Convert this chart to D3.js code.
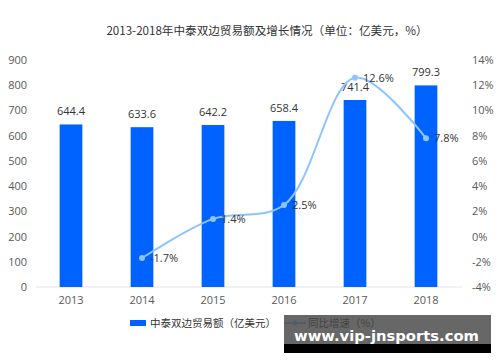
<!DOCTYPE html>
<html>
<head>
<meta charset="utf-8">
<script src="https://cdn.jsdelivr.net/npm/d3@7"></script>
<style>
  body { margin: 0; background: #fff; }
  text { font-family: "Noto Sans CJK SC", "Noto Sans", sans-serif; }
</style>
</head>
<body>
<div id="chart"></div>
<script>
// data
const years = ['2013', '2014', '2015', '2016', '2017', '2018']
const tradeValues = [644.4, 633.6, 642.2, 658.4, 741.4, 799.3]
const growthYears = ['2014', '2015', '2016', '2017', '2018']
const growthRates = [-1.7, 1.4, 2.5, 12.6, 7.8]
const leftTicks = [0, 100, 200, 300, 400, 500, 600, 700, 800, 900]
const rightTicks = [-4, -2, 0, 2, 4, 6, 8, 10, 12, 14]

const width = 500
const height = 362
const margin = { top: 60, right: 38, bottom: 75, left: 36 }

const svg = d3.select('#chart')
  .append('svg')
  .attr('width', width)
  .attr('height', height)

const x = d3.scaleBand()
  .domain(years)
  .range([margin.left - 0.5, width - margin.right - 0.5])
  .paddingInner(0.68)
  .paddingOuter(0.34)

const yLeft = d3.scaleLinear()
  .domain([0, 900])
  .range([height - margin.bottom, margin.top])

const yRight = d3.scaleLinear()
  .domain([-4, 14])
  .range([height - margin.bottom, margin.top])

const cx = (d) => x(d) + x.bandwidth() / 2

// title
svg.append('text')
  .attr('x', 267)
  .attr('y', 35)
  .attr('text-anchor', 'middle')
  .style('font-size', '11.6px')
  .style('fill', '#333')
  .text('2013-2018年中泰双边贸易额及增长情况（单位：亿美元，%）')

// baseline
svg.append('line')
  .attr('x1', margin.left)
  .attr('x2', width - margin.right)
  .attr('y1', yLeft(0))
  .attr('y2', yLeft(0))
  .attr('stroke', '#e3e3e3')
  .attr('stroke-width', 1)

// left axis
const leftAxis = svg.append('g')
  .attr('transform', `translate(${margin.left - 9},0)`)
  .call(d3.axisLeft(yLeft).tickValues(leftTicks).tickSize(0).tickPadding(0))
leftAxis.select('.domain').remove()
leftAxis.selectAll('text')
  .style('font-size', '11px')
  .style('fill', '#595959')
  .style('font-family', '"Open Sans", "Noto Sans", sans-serif')

// right axis
const rightAxis = svg.append('g')
  .attr('transform', `translate(${width - margin.right + 10},0)`)
  .call(d3.axisRight(yRight).tickValues(rightTicks).tickSize(0).tickPadding(0)
    .tickFormat((d) => d + '%'))
rightAxis.select('.domain').remove()
rightAxis.selectAll('text')
  .style('font-size', '11px')
  .style('fill', '#595959')
  .style('font-family', '"Open Sans", "Noto Sans", sans-serif')

// bottom axis
const bottomAxis = svg.append('g')
  .attr('transform', `translate(0,${yLeft(0) + 9})`)
  .call(d3.axisBottom(x).tickSize(0).tickPadding(0))
bottomAxis.select('.domain').remove()
bottomAxis.selectAll('text')
  .style('font-size', '11px')
  .style('fill', '#595959')
  .style('font-family', '"Open Sans", "Noto Sans", sans-serif')

// bars
svg.append('g')
  .selectAll('rect')
  .data(years)
  .enter()
  .append('rect')
  .attr('x', (d) => x(d))
  .attr('y', (d, i) => yLeft(tradeValues[i]))
  .attr('width', x.bandwidth())
  .attr('height', (d, i) => yLeft(0) - yLeft(tradeValues[i]))
  .attr('fill', '#0062ff')

svg.append('g')
  .selectAll('text')
  .data(years)
  .enter()
  .append('text')
  .attr('x', (d) => cx(d))
  .attr('y', (d, i) => yLeft(tradeValues[i]) - 9)
  .attr('text-anchor', 'middle')
  .style('font-size', '11px')
  .style('fill', '#333')
  .style('font-family', '"Open Sans", "Noto Sans", sans-serif')
  .text((d, i) => tradeValues[i].toFixed(1))

// growth line
const line = d3.line()
  .x((d) => cx(d))
  .y((d, i) => yRight(growthRates[i]))
  .curve(d3.curveCatmullRom.alpha(0.5))

svg.append('path')
  .datum(growthYears)
  .attr('d', line)
  .attr('fill', 'none')
  .attr('stroke', '#8cc4ff')
  .attr('stroke-width', 2)

svg.append('g')
  .selectAll('circle')
  .data(growthYears)
  .enter()
  .append('circle')
  .attr('cx', (d) => cx(d))
  .attr('cy', (d, i) => yRight(growthRates[i]))
  .attr('r', 3)
  .attr('fill', '#8cc4ff')

svg.append('g')
  .selectAll('text')
  .data(growthYears)
  .enter()
  .append('text')
  .attr('x', (d) => cx(d) + 8)
  .attr('y', (d, i) => yRight(growthRates[i]) + 4)
  .style('font-size', '11px')
  .style('fill', '#333')
  .style('font-family', '"Open Sans", "Noto Sans", sans-serif')
  .text((d, i) => growthRates[i].toFixed(1) + '%')

// legend
const legend = svg.append('g').attr('transform', 'translate(130,323)')
legend.append('rect')
  .attr('x', 0).attr('y', -3)
  .attr('width', 16).attr('height', 6)
  .attr('fill', '#0062ff')
legend.append('text')
  .attr('x', 20).attr('y', 4)
  .style('font-size', '10.5px')
  .style('fill', '#333')
  .text('中泰双边贸易额（亿美元）')

legend.append('line')
  .attr('x1', 154).attr('x2', 176)
  .attr('y1', 0).attr('y2', 0)
  .attr('stroke', '#8cc4ff').attr('stroke-width', 2)
legend.append('circle')
  .attr('cx', 165).attr('cy', 0).attr('r', 2.5)
  .attr('fill', '#8cc4ff')
legend.append('text')
  .attr('x', 178).attr('y', 4)
  .style('font-size', '10.5px')
  .style('fill', '#333')
  .text('同比增速（%）')

// watermark overlay
svg.append('rect')
  .attr('x', 284).attr('y', 315)
  .attr('width', 207).attr('height', 29)
  .attr('fill', 'rgba(70,70,70,0.82)')
svg.append('rect')
  .attr('x', 284).attr('y', 344)
  .attr('width', 207).attr('height', 9)
  .attr('fill', '#000')
svg.append('text')
  .attr('x', 294).attr('y', 341)
  .attr('textLength', 185)
  .attr('lengthAdjust', 'spacingAndGlyphs')
  .style('font-size', '14px')
  .style('font-weight', 'bold')
  .style('fill', '#fff')
  .style('font-family', '"DejaVu Sans", sans-serif')
  .text('www.vip-jnsports.com')
</script>
</body>
</html>
